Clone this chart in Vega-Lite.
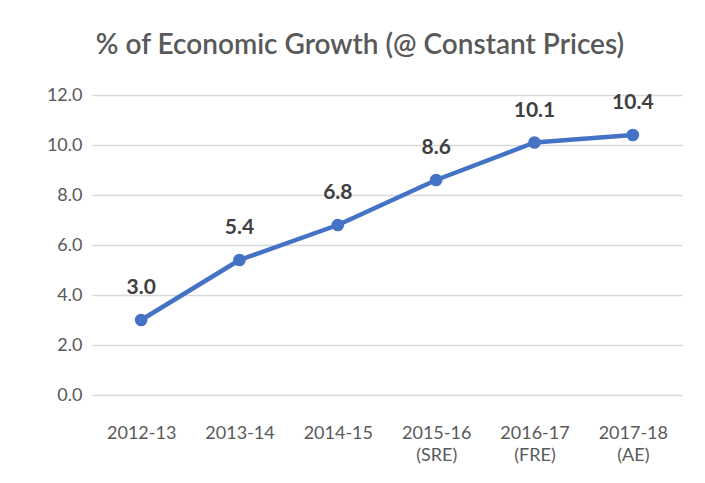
{
  "$schema": "https://vega.github.io/schema/vega-lite/v6.json",
  "autosize": {"type": "none"},
  "width": 590,
  "height": 300,
  "padding": {"left": 92, "top": 95, "right": 23, "bottom": 88},
  "background": "white",
  "title": {
    "text": "% of Economic Growth (@ Constant Prices)",
    "font": "Lato",
    "fontSize": 28,
    "fontWeight": 600,
    "color": "#595959",
    "anchor": "middle",
    "dx": -27,
    "offset": 26
  },
  "data": {
    "values": [
      {"year": "2012-13", "growth": 3.0},
      {"year": "2013-14", "growth": 5.4},
      {"year": "2014-15", "growth": 6.8},
      {"year": "2015-16 (SRE)", "growth": 8.6},
      {"year": "2016-17 (FRE)", "growth": 10.1},
      {"year": "2017-18 (AE)", "growth": 10.4}
    ]
  },
  "encoding": {
    "x": {
      "field": "year",
      "type": "ordinal",
      "sort": null,
      "scale": {"paddingInner": 0, "paddingOuter": 0.5},
      "axis": {
        "title": null,
        "labelAngle": 0,
        "labelExpr": "split(datum.label, ' ')",
        "labelFont": "Lato",
        "labelFontSize": 18,
        "labelColor": "#595959",
        "labelLineHeight": 22,
        "labelPadding": 29,
        "labelBaseline": "top",
        "domain": false,
        "ticks": false,
        "grid": false
      }
    },
    "y": {
      "field": "growth",
      "type": "quantitative",
      "scale": {"domain": [0, 12], "nice": false},
      "axis": {
        "title": null,
        "values": [0, 2, 4, 6, 8, 10, 12],
        "format": ".1f",
        "labelFont": "Lato",
        "labelFontSize": 18,
        "labelColor": "#595959",
        "labelPadding": 10,
        "domain": false,
        "ticks": false,
        "gridColor": "#D9D9D9",
        "gridWidth": 1.5
      }
    }
  },
  "layer": [
    {
      "mark": {"type": "line", "color": "#4472C4", "strokeWidth": 4.5, "strokeCap": "round", "strokeJoin": "round"}
    },
    {
      "mark": {"type": "point", "filled": true, "opacity": 1, "color": "#4472C4", "size": 160}
    },
    {
      "mark": {"type": "text", "font": "Lato", "fontSize": 21, "fontWeight": "bold", "color": "#404040", "dy": -32},
      "encoding": {"text": {"field": "growth", "type": "quantitative", "format": ".1f"}}
    }
  ],
  "config": {"view": {"stroke": null}}
}
